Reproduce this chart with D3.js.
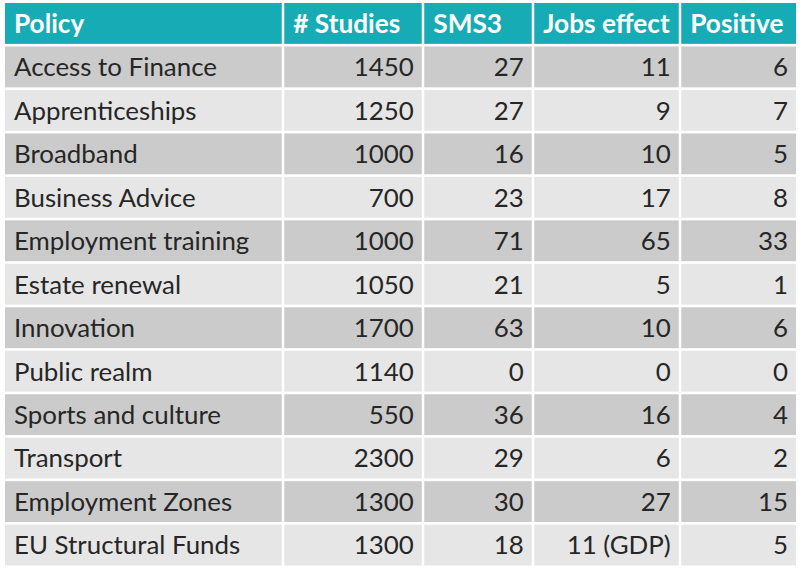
<!DOCTYPE html>
<html><head><meta charset="utf-8">
<script src="https://cdn.jsdelivr.net/npm/d3@7"></script>
<style>html,body{margin:0;padding:0;background:#fff;}svg{display:block;}</style>
</head><body>
<script>
const headers = ["Policy", "# Studies", "SMS3", "Jobs effect", "Positive"];
const policies = ["Access to Finance","Apprenticeships","Broadband","Business Advice","Employment training","Estate renewal","Innovation","Public realm","Sports and culture","Transport","Employment Zones","EU Structural Funds"];
const studies = [1450,1250,1000,700,1000,1050,1700,1140,550,2300,1300,1300];
const sms3 = [27,27,16,23,71,21,63,0,36,29,30,18];
const jobsEffect = ["11","9","10","17","65","5","10","0","16","6","27","11 (GDP)"];
const positive = [6,7,5,8,33,1,6,0,4,2,15,5];

const W = 800, H = 569;
const font = "Lato";
const svg = d3.select("body").append("svg").attr("width", W).attr("height", H);

// column layout
const colEdges = [5, 283, 423, 533, 680, 796];
const gap = 2.5;
const cols = headers.map((h, i) => ({x0: colEdges[i] + (i ? gap/2 : 0), x1: colEdges[i+1] - (i < headers.length-1 ? gap/2 : 0)}));

const rowKeys = d3.range(policies.length + 1);
const y = d3.scaleBand().domain(rowKeys).range([3, 565.5]).paddingInner(0.06).paddingOuter(0);

// font size fit to reference widths
const probe = svg.append("text").attr("font-family", font).attr("font-size", 100).text("Access to Finance");
const wBody = probe.node().getComputedTextLength();
probe.remove();
const bodySize = 100 * 203 / wBody;
const probe2 = svg.append("text").attr("font-family", font).attr("font-weight", "bold").attr("font-size", 100).text("# Studies");
const wHead = probe2.node().getComputedTextLength();
probe2.remove();
const headSize = 100 * 107 / wHead;

const table = policies.map((p, i) => [p, String(studies[i]), String(sms3[i]), jobsEffect[i], String(positive[i])]);

// header
const hg = svg.append("g");
headers.forEach((h, c) => {
  hg.append("rect").attr("x", cols[c].x0).attr("y", y(0)).attr("width", cols[c].x1 - cols[c].x0).attr("height", y.bandwidth()).attr("fill", "#17abb5");
  hg.append("text").attr("x", cols[c].x0 + 9).attr("y", y(0) + y.bandwidth()/2).attr("dy", "0.36em")
    .attr("font-family", font).attr("font-weight", "bold").attr("font-size", headSize).attr("fill", "#ffffff").text(h);
});

// body
table.forEach((row, r) => {
  const g = svg.append("g");
  const yy = y(r + 1);
  const fill = r % 2 === 0 ? "#cbcbcb" : "#e6e6e6";
  row.forEach((v, c) => {
    g.append("rect").attr("x", cols[c].x0).attr("y", yy).attr("width", cols[c].x1 - cols[c].x0).attr("height", y.bandwidth()).attr("fill", fill);
    const t = g.append("text").attr("y", yy + y.bandwidth()/2).attr("dy", "0.36em")
      .attr("font-family", font).attr("font-size", bodySize).attr("fill", "#262626").text(v);
    if (c === 0) t.attr("x", cols[c].x0 + 9);
    else t.attr("x", cols[c].x1 - 8).attr("text-anchor", "end");
  });
});
</script>
</body></html>
